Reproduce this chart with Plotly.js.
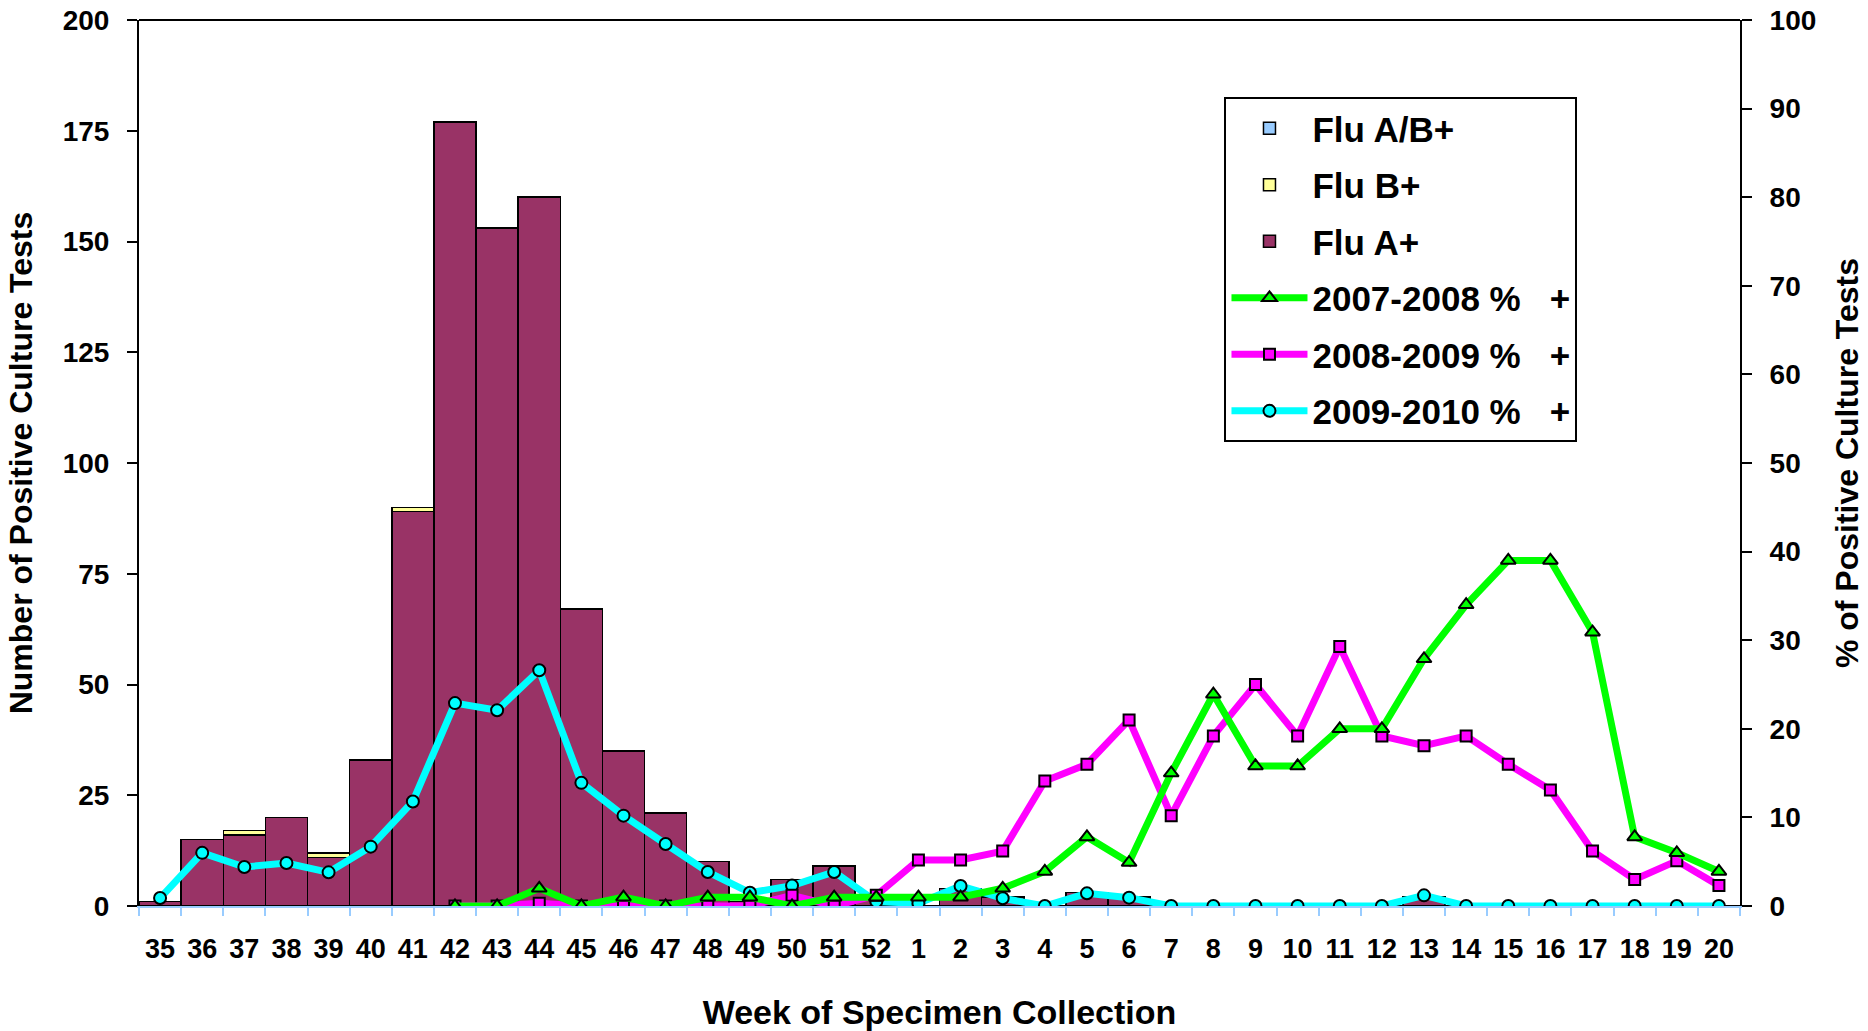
<!DOCTYPE html>
<html>
<head>
<meta charset="utf-8">
<script src="https://cdn.plot.ly/plotly-3.0.1.min.js"></script>
<style>html,body{margin:0;padding:0;background:#fff;}#chart{width:1868px;height:1031px;}</style>
</head>
<body>
<div id="chart"></div>
<script>
// Weeks of specimen collection (categories)
const weeks = ['35','36','37','38','39','40','41','42','43','44','45','46','47','48','49','50','51','52',
               '1','2','3','4','5','6','7','8','9','10','11','12','13','14','15','16','17','18','19','20'];

// Number of positive culture tests (left axis)
const fluA  = [1,15,16,20,11,33,89,177,153,160,67,35,21,10,1,6,9,2, 0,4,2,0,3,2,0,0,0,0,0,0,2,0,0,0,0,0,0,0];
const fluB  = [0,0,1,0,1,0,1,0,0,0,0,0,0,0,0,0,0,0, 0,0,0,0,0,0,0,0,0,0,0,0,0,0,0,0,0,0,0,0];
const fluAB = [0,0,0,0,0,0,0,0,0,0,0,0,0,0,0,0,0,0, 0,0,0,0,0,0,0,0,0,0,0,0,0,0,0,0,0,0,0,0];

// % of positive culture tests (right axis)
const pct0708 = [null,null,null,null,null,null,null,0,0,2,0,1,0,1,1,0,1,1,
                 1,1,2,3.9,7.8,4.9,15,23.9,15.8,15.8,20,20,27.9,34,39,39,30.9,7.8,6,3.9];
const pct0809 = [null,null,null,null,null,null,null,0,0,0.3,0,0,0,0,0,1.2,0,1.2,
                 5.2,5.2,6.2,14.1,16,21,10.2,19.2,25,19.2,29.3,19.2,18.1,19.2,16,13.1,6.2,3,5.1,2.3];
const pct0910 = [0.9,6,4.4,4.85,3.8,6.7,11.8,22.9,22.1,26.6,13.9,10.2,7,3.84,1.5,2.3,3.84,0.5,
                 0.3,2.26,0.87,0,1.43,0.94,0,0,0,0,0,0,1.2,0,0,0,0,0,0,0];

const FONT = 'Liberation Sans, Arial, sans-serif';
const barLine = {color: '#000000', width: 1.5};
const SP = '\u00a0\u00a0\u00a0';

const traces = [
  {type: 'bar', name: 'Flu A+', x: weeks, y: fluA, marker: {color: '#993366', line: barLine},
   legendrank: 3, legendgroup: 'g3'},
  {type: 'bar', name: 'Flu B+', x: weeks, y: fluB, marker: {color: '#FFFF99', line: barLine},
   legendrank: 2, legendgroup: 'g2'},
  {type: 'bar', name: 'Flu A/B+', x: weeks, y: fluAB, marker: {color: '#99CCFF', line: barLine},
   legendrank: 1, legendgroup: 'g1'},
  {type: 'scatter', mode: 'lines+markers', name: '2009-2010 %' + SP + '+', x: weeks, y: pct0910, yaxis: 'y2',
   line: {color: '#00FFFF', width: 7}, marker: {symbol: 'circle', size: 12, color: '#00FFFF', line: {color: '#000', width: 2}},
   legendrank: 6, legendgroup: 'g6'},
  {type: 'scatter', mode: 'lines+markers', name: '2008-2009 %' + SP + '+', x: weeks, y: pct0809, yaxis: 'y2',
   line: {color: '#FF00FF', width: 7}, marker: {symbol: 'square', size: 11, color: '#FF00FF', line: {color: '#000', width: 2}},
   legendrank: 5, legendgroup: 'g5'},
  {type: 'scatter', mode: 'lines+markers', name: '2007-2008 %' + SP + '+', x: weeks, y: pct0708, yaxis: 'y2',
   line: {color: '#00FF00', width: 7}, marker: {symbol: 'triangle-up', size: 13, color: '#00FF00', line: {color: '#000', width: 2}},
   legendrank: 4, legendgroup: 'g4'}
];

const layout = {
  width: 1868, height: 1031,
  margin: {l: 139, r: 128, t: 20, b: 125},
  paper_bgcolor: '#ffffff', plot_bgcolor: '#ffffff',
  barmode: 'stack', bargap: 0,
  font: {family: FONT, color: '#000', weight: 'bold'},
  showlegend: true,
  legend: {
    x: 0.678, y: 0.913, xanchor: 'left', yanchor: 'top',
    bgcolor: '#ffffff', bordercolor: '#000000', borderwidth: 2,
    font: {family: FONT, size: 35, color: '#000', weight: 'bold'},
    traceorder: 'grouped', tracegroupgap: 8, itemwidth: 76
  },
  xaxis: {
    type: 'category', range: [-0.5, 37.5], autorange: false, tickangle: 0,
    tickson: 'boundaries', ticks: 'outside', ticklen: 8, tickwidth: 2, tickcolor: '#99CCFF',
    showline: true, linecolor: '#99CCFF', linewidth: 2, showgrid: false, zeroline: false,
    tickfont: {family: FONT, size: 27, color: '#000', weight: 'bold'}, ticklabelstandoff: 18,
    title: {text: 'Week of Specimen Collection', font: {family: FONT, size: 34, color: '#000', weight: 'bold'}, standoff: 37}
  },
  yaxis: {
    range: [0, 200], autorange: false, dtick: 25, ticks: 'outside', ticklen: 10, tickwidth: 2, tickcolor: '#000',
    showline: true, linecolor: '#000', linewidth: 2, showgrid: false, zeroline: false,
    tickfont: {family: FONT, size: 28, color: '#000', weight: 'bold'}, ticklabelstandoff: 12,
    title: {text: 'Number of Positive Culture Tests', font: {family: FONT, size: 32, color: '#000', weight: 'bold'}, standoff: 20}
  },
  yaxis2: {
    range: [0, 100], autorange: false, dtick: 10, overlaying: 'y', side: 'right', ticks: 'outside', ticklen: 10, tickwidth: 2, tickcolor: '#000',
    showline: true, linecolor: '#000', linewidth: 2, showgrid: false, zeroline: false,
    tickfont: {family: FONT, size: 28, color: '#000', weight: 'bold'}, ticklabelstandoff: 12,
    title: {text: '% of Positive Culture Tests', font: {family: FONT, size: 32, color: '#000', weight: 'bold'}, standoff: 20}
  },
  shapes: [
    {type: 'line', xref: 'paper', yref: 'paper', x0: 0, x1: 1, y0: 1, y1: 1, line: {color: '#000', width: 2}}
  ]
};

Plotly.newPlot('chart', traces, layout, {displayModeBar: false, staticPlot: true});
</script>
</body>
</html>
